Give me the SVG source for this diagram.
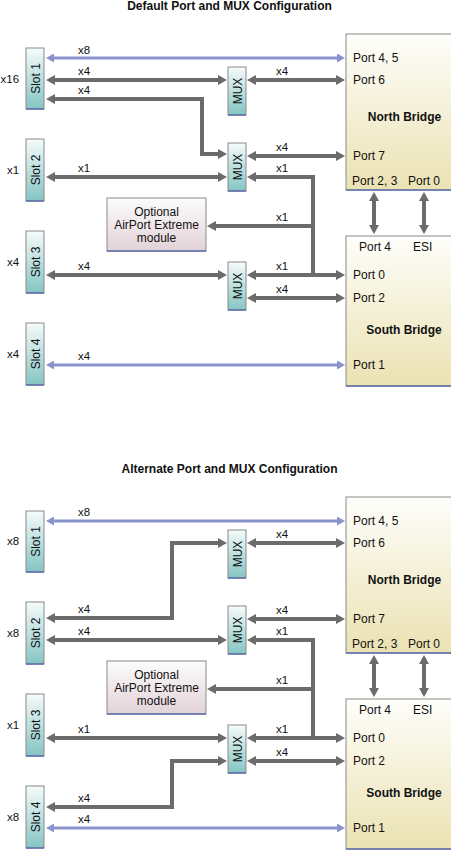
<svg xmlns="http://www.w3.org/2000/svg" width="451" height="850" viewBox="0 0 451 850">
<style>
text{font-family:"Liberation Sans",Arial,sans-serif;fill:#111}
.t{font-size:12px;font-weight:bold}
.b{font-size:12px;font-weight:bold}
.l{font-size:11.5px}
.p{font-size:12px}
.v{font-size:12px}
.box{stroke:#8a8a8a;stroke-width:1}
.edge{stroke:#5e6fae;stroke-width:1.5}
.g{fill:none;stroke:#6b6b6b;stroke-width:4;marker-start:url(#ag);marker-end:url(#ag)}
.ge{fill:none;stroke:#6b6b6b;stroke-width:4;marker-end:url(#ag)}
.bl{fill:none;stroke:#8b93cc;stroke-width:3;marker-start:url(#ab);marker-end:url(#ab)}
</style>
<defs>
<linearGradient id="teal" x1="0" y1="0" x2="0" y2="1"><stop offset="0" stop-color="#f6fbfb"/><stop offset="1" stop-color="#84c5c3"/></linearGradient>
<linearGradient id="beige" x1="0" y1="0" x2="0" y2="1"><stop offset="0" stop-color="#fefefb"/><stop offset="1" stop-color="#ebe2b2"/></linearGradient>
<linearGradient id="pink" x1="0" y1="0" x2="0" y2="1"><stop offset="0" stop-color="#fcfcfc"/><stop offset="1" stop-color="#e2d2d9"/></linearGradient>
<marker id="ag" viewBox="0 0 9 10" refX="0" refY="5" markerWidth="9" markerHeight="10" markerUnits="userSpaceOnUse" orient="auto-start-reverse"><path d="M0,0 L9,5 L0,10 z" fill="#6b6b6b"/></marker>
<marker id="ab" viewBox="0 0 8 9" refX="0" refY="4.5" markerWidth="8" markerHeight="9" markerUnits="userSpaceOnUse" orient="auto-start-reverse"><path d="M0,0 L8,4.5 L0,9 z" fill="#8b93cc"/></marker>
</defs>

<!-- ===== Default configuration ===== -->
<text class="t" x="229.5" y="10" text-anchor="middle">Default Port and MUX Configuration</text>

<g id="connectors-default">
<path class="bl" d="M54,58 H337"/>
<path class="g" d="M55,80 H218"/>
<path class="g" d="M256,80 H336"/>
<path class="g" d="M55,99 H202 V154 H218"/>
<path class="g" d="M256,156 H336"/>
<path class="g" d="M55,177 H218"/>
<path class="ge" d="M313,275 V177 H256"/>
<path class="ge" d="M313,226 H216"/>
<path class="g" d="M256,275 H336"/>
<path class="g" d="M55,275 H218"/>
<path class="g" d="M256,298 H336"/>
<path class="bl" d="M54,365 H337"/>
<path class="g" d="M374,201 V225"/>
<path class="g" d="M424,201 V225"/>
<text class="l" x="78" y="54">x8</text>
<text class="l" x="78" y="75">x4</text>
<text class="l" x="276" y="75">x4</text>
<text class="l" x="78" y="94">x4</text>
<text class="l" x="276" y="151">x4</text>
<text class="l" x="78" y="172">x1</text>
<text class="l" x="276" y="172">x1</text>
<text class="l" x="276" y="221">x1</text>
<text class="l" x="78" y="270">x4</text>
<text class="l" x="276" y="270">x1</text>
<text class="l" x="276" y="293">x4</text>
<text class="l" x="78" y="360">x4</text>
</g>

<g id="nb1">
<rect class="box" x="346" y="34" width="110" height="156" fill="url(#beige)"/>
<line class="edge" x1="346" y1="190" x2="451" y2="190"/>
<text class="p" x="353" y="62">Port 4, 5</text>
<text class="p" x="353" y="84">Port 6</text>
<text class="b" x="404.5" y="121" text-anchor="middle">North Bridge</text>
<text class="p" x="353" y="160">Port 7</text>
<text class="p" x="352" y="185">Port 2, 3</text>
<text class="p" x="408" y="185">Port 0</text>
</g>

<g id="sb1">
<rect class="box" x="346" y="236" width="110" height="150" fill="url(#beige)"/>
<line class="edge" x1="346" y1="386" x2="451" y2="386"/>
<text class="p" x="359" y="251">Port 4</text>
<text class="p" x="413" y="251">ESI</text>
<text class="p" x="353" y="279">Port 0</text>
<text class="p" x="353" y="302">Port 2</text>
<text class="b" x="404" y="334" text-anchor="middle">South Bridge</text>
<text class="p" x="353" y="369">Port 1</text>
</g>

<g id="slot1a">
<rect class="box" x="26" y="48" width="18" height="61" fill="url(#teal)"/>
<line class="edge" x1="26" y1="109" x2="44" y2="109"/>
<text class="v" transform="translate(39.5,78.5) rotate(-90)" text-anchor="middle">Slot 1</text>
<text class="l" x="0.5" y="83">x16</text>
</g>
<g id="slot2a">
<rect class="box" x="26" y="139" width="18" height="62" fill="url(#teal)"/>
<line class="edge" x1="26" y1="201" x2="44" y2="201"/>
<text class="v" transform="translate(39.5,170) rotate(-90)" text-anchor="middle">Slot 2</text>
<text class="l" x="7" y="174">x1</text>
</g>
<g id="slot3a">
<rect class="box" x="26" y="231" width="18" height="62" fill="url(#teal)"/>
<line class="edge" x1="26" y1="293" x2="44" y2="293"/>
<text class="v" transform="translate(39.5,262) rotate(-90)" text-anchor="middle">Slot 3</text>
<text class="l" x="7" y="266">x4</text>
</g>
<g id="slot4a">
<rect class="box" x="26" y="323" width="18" height="62" fill="url(#teal)"/>
<line class="edge" x1="26" y1="385" x2="44" y2="385"/>
<text class="v" transform="translate(39.5,354) rotate(-90)" text-anchor="middle">Slot 4</text>
<text class="l" x="7" y="358">x4</text>
</g>

<g id="mux1a">
<rect class="box" x="228" y="67" width="18" height="48" fill="url(#teal)"/>
<line class="edge" x1="228" y1="115" x2="246" y2="115"/>
<text class="v" transform="translate(241.5,91) rotate(-90)" text-anchor="middle">MUX</text>
</g>
<g id="mux2a">
<rect class="box" x="228" y="143" width="18" height="48" fill="url(#teal)"/>
<line class="edge" x1="228" y1="191" x2="246" y2="191"/>
<text class="v" transform="translate(241.5,167) rotate(-90)" text-anchor="middle">MUX</text>
</g>
<g id="mux3a">
<rect class="box" x="228" y="262" width="18" height="48" fill="url(#teal)"/>
<line class="edge" x1="228" y1="310" x2="246" y2="310"/>
<text class="v" transform="translate(241.5,286) rotate(-90)" text-anchor="middle">MUX</text>
</g>

<g id="airport1">
<rect class="box" x="107" y="198" width="99" height="53" fill="url(#pink)"/>
<line class="edge" x1="107" y1="251" x2="206" y2="251"/>
<text class="p" x="156.5" y="215.5" text-anchor="middle">Optional</text>
<text class="p" x="156.5" y="229" text-anchor="middle">AirPort Extreme</text>
<text class="p" x="156.5" y="242" text-anchor="middle">module</text>
</g>

<!-- ===== Alternate configuration ===== -->
<text class="t" x="229.5" y="473" text-anchor="middle">Alternate Port and MUX Configuration</text>

<g id="connectors-alternate">
<path class="bl" d="M54,521 H337"/>
<path class="g" d="M256,543 H336"/>
<path class="g" d="M55,618 H172 V543 H218"/>
<path class="g" d="M256,619 H336"/>
<path class="g" d="M55,640 H218"/>
<path class="ge" d="M313,738 V640 H256"/>
<path class="ge" d="M313,689 H216"/>
<path class="g" d="M256,738 H336"/>
<path class="g" d="M55,738 H218"/>
<path class="g" d="M55,807 H172 V761 H218"/>
<path class="g" d="M256,761 H336"/>
<path class="bl" d="M54,828 H337"/>
<path class="g" d="M374,664 V688"/>
<path class="g" d="M424,664 V688"/>
<text class="l" x="78" y="516">x8</text>
<text class="l" x="276" y="538">x4</text>
<text class="l" x="78" y="613">x4</text>
<text class="l" x="276" y="614">x4</text>
<text class="l" x="78" y="635">x4</text>
<text class="l" x="276" y="635">x1</text>
<text class="l" x="276" y="684">x1</text>
<text class="l" x="78" y="733">x1</text>
<text class="l" x="276" y="733">x1</text>
<text class="l" x="276" y="756">x4</text>
<text class="l" x="78" y="802">x4</text>
<text class="l" x="78" y="823">x4</text>
</g>

<g id="nb2">
<rect class="box" x="346" y="497" width="110" height="156" fill="url(#beige)"/>
<line class="edge" x1="346" y1="653" x2="451" y2="653"/>
<text class="p" x="353" y="525">Port 4, 5</text>
<text class="p" x="353" y="547">Port 6</text>
<text class="b" x="404.5" y="584" text-anchor="middle">North Bridge</text>
<text class="p" x="353" y="623">Port 7</text>
<text class="p" x="352" y="648">Port 2, 3</text>
<text class="p" x="408" y="648">Port 0</text>
</g>

<g id="sb2">
<rect class="box" x="346" y="699" width="110" height="150" fill="url(#beige)"/>
<line class="edge" x1="346" y1="849" x2="451" y2="849"/>
<text class="p" x="359" y="714">Port 4</text>
<text class="p" x="413" y="714">ESI</text>
<text class="p" x="353" y="742">Port 0</text>
<text class="p" x="353" y="765">Port 2</text>
<text class="b" x="404" y="797" text-anchor="middle">South Bridge</text>
<text class="p" x="353" y="832">Port 1</text>
</g>

<g id="slot1b">
<rect class="box" x="26" y="511" width="18" height="61" fill="url(#teal)"/>
<line class="edge" x1="26" y1="572" x2="44" y2="572"/>
<text class="v" transform="translate(39.5,541.5) rotate(-90)" text-anchor="middle">Slot 1</text>
<text class="l" x="7" y="545">x8</text>
</g>
<g id="slot2b">
<rect class="box" x="26" y="602" width="18" height="62" fill="url(#teal)"/>
<line class="edge" x1="26" y1="664" x2="44" y2="664"/>
<text class="v" transform="translate(39.5,633) rotate(-90)" text-anchor="middle">Slot 2</text>
<text class="l" x="7" y="637">x8</text>
</g>
<g id="slot3b">
<rect class="box" x="26" y="694" width="18" height="62" fill="url(#teal)"/>
<line class="edge" x1="26" y1="756" x2="44" y2="756"/>
<text class="v" transform="translate(39.5,725) rotate(-90)" text-anchor="middle">Slot 3</text>
<text class="l" x="7" y="729">x1</text>
</g>
<g id="slot4b">
<rect class="box" x="26" y="786" width="18" height="62" fill="url(#teal)"/>
<line class="edge" x1="26" y1="848" x2="44" y2="848"/>
<text class="v" transform="translate(39.5,817) rotate(-90)" text-anchor="middle">Slot 4</text>
<text class="l" x="7" y="821">x8</text>
</g>

<g id="mux1b">
<rect class="box" x="228" y="530" width="18" height="48" fill="url(#teal)"/>
<line class="edge" x1="228" y1="578" x2="246" y2="578"/>
<text class="v" transform="translate(241.5,554) rotate(-90)" text-anchor="middle">MUX</text>
</g>
<g id="mux2b">
<rect class="box" x="228" y="606" width="18" height="48" fill="url(#teal)"/>
<line class="edge" x1="228" y1="654" x2="246" y2="654"/>
<text class="v" transform="translate(241.5,630) rotate(-90)" text-anchor="middle">MUX</text>
</g>
<g id="mux3b">
<rect class="box" x="228" y="725" width="18" height="48" fill="url(#teal)"/>
<line class="edge" x1="228" y1="773" x2="246" y2="773"/>
<text class="v" transform="translate(241.5,749) rotate(-90)" text-anchor="middle">MUX</text>
</g>

<g id="airport2">
<rect class="box" x="107" y="661" width="99" height="53" fill="url(#pink)"/>
<line class="edge" x1="107" y1="714" x2="206" y2="714"/>
<text class="p" x="156.5" y="678.5" text-anchor="middle">Optional</text>
<text class="p" x="156.5" y="692" text-anchor="middle">AirPort Extreme</text>
<text class="p" x="156.5" y="705" text-anchor="middle">module</text>
</g>
</svg>
